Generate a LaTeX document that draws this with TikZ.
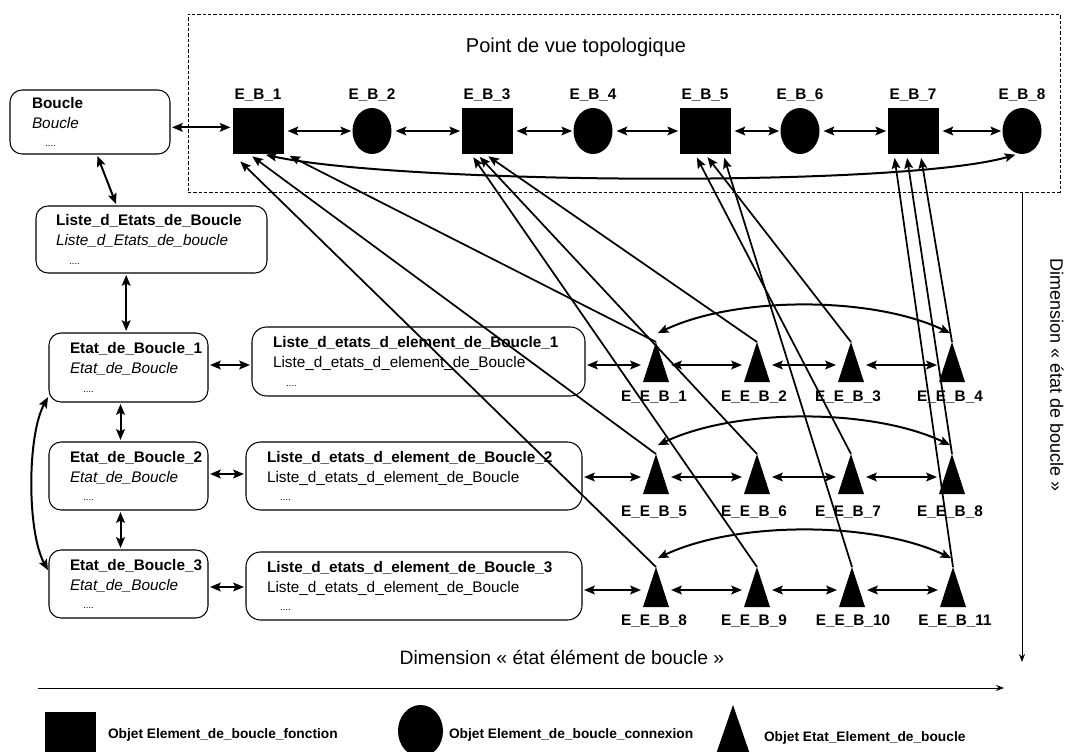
\documentclass[tikz,border=0pt]{standalone}
\usepackage{fontspec}
\setmainfont{Liberation Sans}
\usetikzlibrary{arrows.meta,shapes.geometric}
\newcommand\lblfont{\fontsize{11.5}{13}\selectfont\bfseries}
\newcommand\legfont{\fontsize{10.3}{12}\selectfont\bfseries}
\newcommand\boxfont{\fontsize{11.5}{15}\selectfont}
\newcommand\dotsline{\\[-1pt]\hspace*{10pt}{\fontsize{7}{8}\selectfont ....}}
\begin{document}
\begin{tikzpicture}[x=0.75pt,y=-0.75pt,
  >={Stealth[length=8pt,width=6.5pt,inset=1.5pt]},
  every node/.style={inner sep=0pt,outer sep=0pt},
  sq/.style={fill=black,minimum width=38.25pt,minimum height=34.5pt},
  circ/.style={ellipse,fill=black,minimum width=29.25pt,minimum height=34.5pt},
  tri/.style={minimum width=19.5pt,minimum height=30pt},
  lbl/.style={font=\lblfont},
  box/.style={draw,line width=0.8pt,rounded corners=9pt},
  boxtxt/.style={font=\boxfont,align=left,anchor=west},
  arr/.style={<->,line width=1.5pt,shorten <=1.5pt,shorten >=1.5pt},
  diag/.style={->,line width=1.3pt,shorten >=3pt},
  axis/.style={-{Stealth[length=6pt,width=4.5pt]},line width=0.7pt},
  big/.style={font=\fontsize{14.5}{17}\selectfont}
]
\path[use as bounding box] (0,0) rectangle (1074,752);
\clip (0,0) rectangle (1074,752);

% topological box
\node[draw,dash pattern=on 2.5pt off 1.5pt,line width=0.7pt,minimum width=654pt,minimum height=133.5pt] (topo) at (624,103) {};
\node[font=\fontsize{15}{18}\selectfont] (title) at (576,47) {Point de vue topologique};

% top row
\node[sq] (eb1) at (258,131) {};
\node[circ] (eb2) at (372,131) {};
\node[sq] (eb3) at (487,131) {};
\node[circ] (eb4) at (593,131) {};
\node[sq] (eb5) at (705,131) {};
\node[circ] (eb6) at (800,131) {};
\node[sq] (eb7) at (913,131) {};
\node[circ] (eb8) at (1022,131) {};
\node[lbl] (a1) at (258,95) {E\_B\_1};
\node[lbl] (a2) at (372,95) {E\_B\_2};
\node[lbl] (a3) at (487,95) {E\_B\_3};
\node[lbl] (a4) at (593,95) {E\_B\_4};
\node[lbl] (a5) at (705,95) {E\_B\_5};
\node[lbl] (a6) at (800,95) {E\_B\_6};
\node[lbl] (a7) at (913,95) {E\_B\_7};
\node[lbl] (a8) at (1022,95) {E\_B\_8};
\foreach \p/\q in {eb1/eb2,eb2/eb3,eb3/eb4,eb4/eb5,eb5/eb6,eb6/eb7,eb7/eb8}
  \draw[arr,shorten <=3pt,shorten >=1pt] (\p.east) -- (\q.west);

% left boxes
\node[box,minimum width=120pt,minimum height=48pt] (boucle) at (90,122) {};
\node[boxtxt] (boucleT) at ([xshift=16.5pt]boucle.west) {\textbf{Boucle}\\\textit{Boucle}\dotsline};
\node[box,minimum width=173.25pt,minimum height=50.25pt] (liste) at (151.5,239.5) {};
\node[boxtxt] (listeT) at ([xshift=15pt]liste.west) {\textbf{Liste\_d\_Etats\_de\_Boucle}\\\textit{Liste\_d\_Etats\_de\_boucle}\dotsline};
\node[box,minimum width=119.25pt,minimum height=51.75pt] (e1) at (128.5,367.5) {};
\node[boxtxt] (e1T) at ([xshift=15.75pt]e1.west) {\textbf{Etat\_de\_Boucle\_1}\\\textit{Etat\_de\_Boucle}\dotsline};
\node[box,minimum width=119.25pt,minimum height=51pt] (e2) at (128.5,476) {};
\node[boxtxt] (e2T) at ([xshift=15.75pt]e2.west) {\textbf{Etat\_de\_Boucle\_2}\\\textit{Etat\_de\_Boucle}\dotsline};
\node[box,minimum width=119.25pt,minimum height=51pt] (e3) at (128.5,584) {};
\node[boxtxt] (e3T) at ([xshift=15.75pt]e3.west) {\textbf{Etat\_de\_Boucle\_3}\\\textit{Etat\_de\_Boucle}\dotsline};

% list boxes
\node[box,rounded corners=11pt,minimum width=249.75pt,minimum height=51.75pt] (l1) at (418.5,361.5) {};
\node[boxtxt] (l1T) at ([xshift=15.75pt]l1.west) {\textbf{Liste\_d\_etats\_d\_element\_de\_Boucle\_1}\\Liste\_d\_etats\_d\_element\_de\_Boucle\dotsline};
\node[box,rounded corners=11pt,minimum width=252pt,minimum height=51pt] (l2) at (414,476) {};
\node[boxtxt] (l2T) at ([xshift=15.75pt]l2.west) {\textbf{Liste\_d\_etats\_d\_element\_de\_Boucle\_2}\\Liste\_d\_etats\_d\_element\_de\_Boucle\dotsline};
\node[box,rounded corners=11pt,minimum width=252pt,minimum height=51pt] (l3) at (414,586) {};
\node[boxtxt] (l3T) at ([xshift=15.75pt]l3.west) {\textbf{Liste\_d\_etats\_d\_element\_de\_Boucle\_3}\\Liste\_d\_etats\_d\_element\_de\_Boucle\dotsline};

% triangles
\node[tri] (t1) at (656,362) {};
\node[tri] (t2) at (757,362) {};
\node[tri] (t3) at (851,362) {};
\node[tri] (t4) at (952,362) {};
\node[tri] (t5) at (656,474) {};
\node[tri] (t6) at (757,474) {};
\node[tri] (t7) at (851,474) {};
\node[tri] (t8a) at (952,474) {};
\node[tri] (t8b) at (656,587) {};
\node[tri] (t9) at (757,587) {};
\node[tri] (t10) at (852,587) {};
\node[tri] (t11) at (953,587) {};
\foreach \t in {t1,t2,t3,t4,t5,t6,t7,t8a,t8b,t9,t10,t11}
  \fill (\t.south west) -- (\t.south east) -- (\t.north) -- cycle;
\node[lbl] (n1) at (654,397) {E\_E\_B\_1};
\node[lbl] (n2) at (754,397) {E\_E\_B\_2};
\node[lbl] (n3) at (848,397) {E\_E\_B\_3};
\node[lbl] (n4) at (950,397) {E\_E\_B\_4};
\node[lbl] (n5) at (654,512) {E\_E\_B\_5};
\node[lbl] (n6) at (754,512) {E\_E\_B\_6};
\node[lbl] (n7) at (848,512) {E\_E\_B\_7};
\node[lbl] (n8a) at (950,512) {E\_E\_B\_8};
\node[lbl] (n8b) at (654,621) {E\_E\_B\_8};
\node[lbl] (n9) at (754,621) {E\_E\_B\_9};
\node[lbl] (n10) at (853,621) {E\_E\_B\_10};
\node[lbl] (n11) at (955,621) {E\_E\_B\_11};

% left column connectors
\coordinate (bA) at ([yshift=-4pt]boucle.east);
\draw[arr] (bA) -- (bA -| eb1.west);
\draw[arr] ([xshift=5pt]boucle.south) -- ([xshift=-26pt]liste.north);
\coordinate (la) at ([xshift=-19pt]liste.south);
\draw[arr] (la) -- (la |- e1.north);
\coordinate (ea) at ([xshift=-6pt]e1.south);
\draw[arr] (ea) -- (ea |- e2.north);
\coordinate (eb) at ([xshift=-6pt]e2.south);
\draw[arr] (eb) -- (eb |- e3.north);
\draw[arr] ([yshift=5pt]e1.south west) .. controls +(-22,40) and +(-22,-40) .. ([yshift=9pt]e3.west);

% etat <-> list
\coordinate (y1) at (0,365);
\coordinate (y2) at (0,474);
\coordinate (y3) at (0,587);
\draw[arr] (e1.east |- y1) -- (l1.west |- y1);
\draw[arr] (e2.east |- y2) -- (l2.west |- y2);
\draw[arr] (e3.east |- y3) -- (l3.west |- y3);

% list <-> triangles and triangle rows
\coordinate (r1) at (0,365);
\coordinate (r2) at (0,477);
\coordinate (r3) at (0,590);
\draw[arr] (l1.east |- r1) -- (t1.west |- r1);
\draw[arr] (l2.east |- r2) -- (t5.west |- r2);
\draw[arr] (l3.east |- r3) -- (t8b.west |- r3);
\foreach \p/\q/\r in {t1/t2/r1,t2/t3/r1,t3/t4/r1,t5/t6/r2,t6/t7/r2,t7/t8a/r2,t8b/t9/r3,t9/t10/r3,t10/t11/r3}
  \draw[arr] (\p.east |- \r) -- (\q.west |- \r);
\foreach \p/\q in {t1/t4,t5/t8a,t8b/t11}
  \draw[arr] ([yshift=6pt]\p.north) .. controls +(80,-38) and +(-80,-38) .. ([yshift=6pt]\q.north);

% top curve
\draw[arr,shorten <=3pt,shorten >=2pt] ([xshift=3pt]eb1.south) .. controls +(138,30) and +(-118,34) .. ([xshift=-3pt]eb8.south);

% diagonals triangle -> squares
\draw[diag,shorten >=8pt] (t8b.north) -- ([xshift=-19pt]eb1.south);
\draw[diag] (t5.north) -- ([xshift=-6.75pt]eb1.south);
\draw[diag] (t1.north) -- ([xshift=21pt]eb1.south);
\draw[diag] (t9.north) -- ([xshift=-12pt]eb3.south);
\draw[diag] (t6.north) -- ([xshift=-7.5pt]eb3.south);
\draw[diag] (t2.north) -- ([xshift=-1.5pt]eb3.south);
\draw[diag] (t7.north) -- ([xshift=-7.5pt]eb5.south);
\draw[diag] (t3.north) -- (eb5.south);
\draw[diag] (t10.north) -- ([xshift=13.5pt]eb5.south);
\draw[diag] (t11.north) -- ([xshift=-14.25pt]eb7.south);
\draw[diag] (t8a.north) -- ([xshift=-4.9pt]eb7.south);
\draw[diag] (t4.north) -- ([xshift=5.6pt]eb7.south);

% axes
\coordinate (vtop) at (1022,192);
\coordinate (vbot) at (1022,662);
\draw[axis] (vtop) -- (vbot);
\node[font=\fontsize{13.5}{16}\selectfont,rotate=-90] (vlab) at (1057,375) {Dimension « état de boucle »};
\coordinate (hl) at (38,688);
\coordinate (hr) at (1004,688);
\draw[axis] (hl) -- (hr);
\node[big] (hlab) at (562,657) {Dimension « état élément de boucle »};

% legend
\node[sq,minimum width=38.25pt,minimum height=34.5pt] (lsq) at (70.5,735) {};
\node[ellipse,fill=black,minimum width=33.75pt,minimum height=39pt] (lci) at (420.5,731) {};
\node[minimum width=28.5pt,minimum height=41.25pt] (ltr) at (733,732.5) {};
\fill (ltr.south west) -- (ltr.south east) -- (ltr.north) -- cycle;
\node[font=\legfont,anchor=west] (lt1) at (108,735) {Objet Element\_de\_boucle\_fonction};
\node[font=\legfont,anchor=west] (lt2) at (449,735) {Objet Element\_de\_boucle\_connexion};
\node[font=\legfont,anchor=west] (lt3) at (764,738) {Objet Etat\_Element\_de\_boucle};
\end{tikzpicture}
\end{document}
